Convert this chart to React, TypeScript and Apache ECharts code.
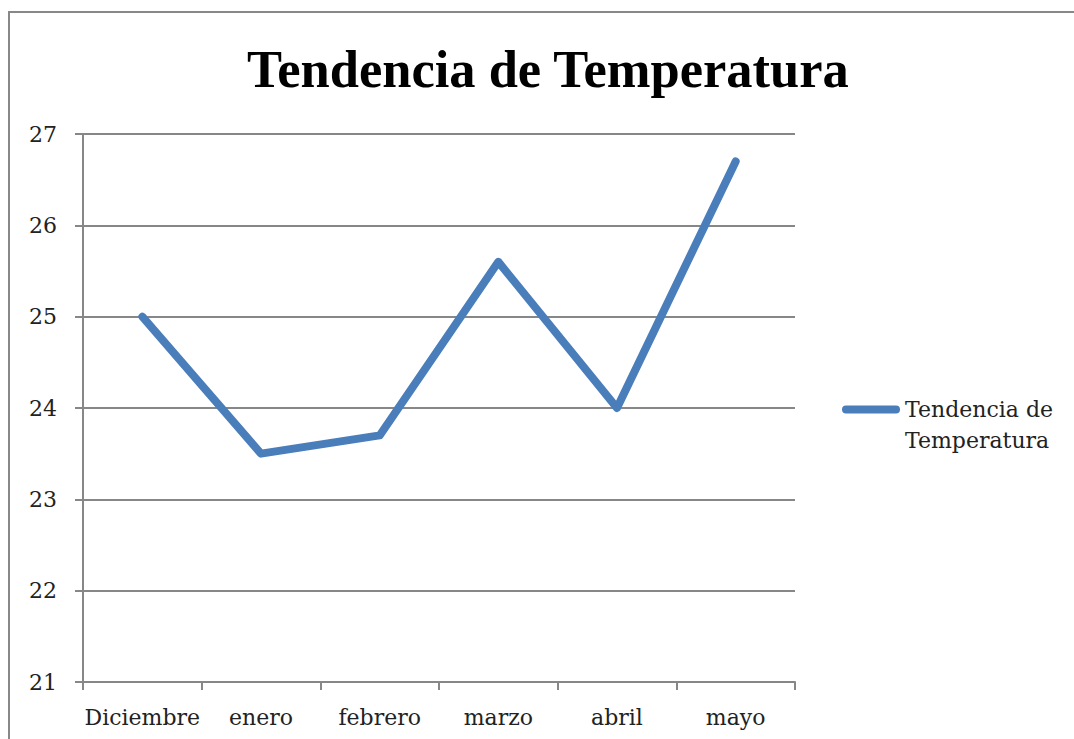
import React, { useEffect, useRef } from "react";
import * as echarts from "echarts";

const categories = ["Diciembre", "enero", "febrero", "marzo", "abril", "mayo"];
const temperatures = [25.0, 23.5, 23.7, 25.6, 24.0, 26.7];
const seriesName = "Tendencia de Temperatura";
const titleText = "Tendencia de Temperatura";

export default function App() {
  const ref = useRef<HTMLDivElement>(null);
  useEffect(() => {
    if (!ref.current) return;
    const chart = echarts.init(ref.current, null, { renderer: "svg" });
    const gray = "#878787";
    chart.setOption({
      animation: false,
      backgroundColor: "#ffffff",
      title: {
        text: titleText,
        left: 247,
        top: 42,
        padding: 0,
        textStyle: {
          fontFamily: "Liberation Serif",
          fontWeight: "bold",
          fontSize: 52.5,
          color: "#000",
        },
      },
      graphic: [
        {
          type: "rect",
          shape: { x: 9, y: 12, width: 1100, height: 800 },
          style: { fill: "none", stroke: "#888", lineWidth: 2 },
          silent: true,
        },
      ],
      legend: {
        left: 837,
        top: 358,
        orient: "vertical",
        itemWidth: 58,
        itemHeight: 8,
        icon: "path://M4,0 H54 A4,4 0 0 1 54,8 H4 A4,4 0 0 1 4,0 Z",
        formatter: () => "\nTendencia de\nTemperatura",
        textStyle: {
          fontFamily: "DejaVu Serif",
          fontSize: 22,
          color: "#222",
          lineHeight: 31,
        },
        data: [seriesName],
      },
      grid: { left: 83, top: 134, width: 712, height: 548, containLabel: false },
      xAxis: {
        type: "category",
        data: categories,
        boundaryGap: true,
        axisLine: { lineStyle: { color: gray, width: 2 } },
        axisTick: { show: true, length: 8, interval: 0, lineStyle: { color: gray, width: 2 } },
        axisLabel: {
          interval: 0,
          fontFamily: "DejaVu Serif",
          fontSize: 22,
          color: "#222",
          margin: 24,
        },
      },
      yAxis: {
        type: "value",
        min: 21,
        max: 27,
        interval: 1,
        axisLine: { show: true, lineStyle: { color: gray, width: 2 } },
        axisTick: { show: true, length: 8, lineStyle: { color: gray, width: 2 } },
        splitLine: { lineStyle: { color: gray, width: 2 } },
        axisLabel: {
          fontFamily: "DejaVu Serif",
          fontSize: 22,
          color: "#222",
          margin: 26,
        },
      },
      series: [
        {
          name: seriesName,
          type: "line",
          data: temperatures,
          showSymbol: false,
          symbol: "none",
          lineStyle: { color: "#4a7ebb", width: 8, cap: "round", join: "round" },
          itemStyle: { color: "#4a7ebb" },
        },
      ],
    });
    return () => chart.dispose();
  }, []);
  return (
    <div
      ref={ref}
      style={{ position: "fixed", left: 0, top: 0, width: 1074, height: 739 }}
    />
  );
}
